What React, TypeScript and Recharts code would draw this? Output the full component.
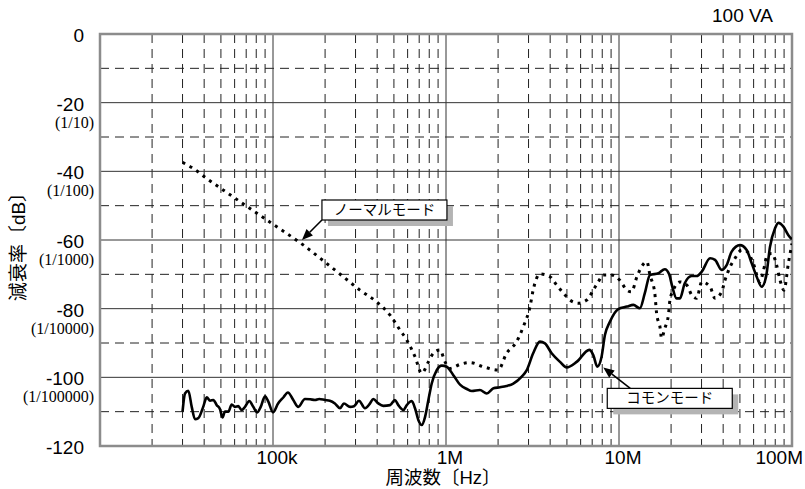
import { LineChart, Line, XAxis, YAxis, CartesianGrid, ReferenceArea, ReferenceDot } from 'recharts';

// common mode (solid)
const cmFreq = [
  30e3, 31e3, 32.4e3, 33.9e3, 35.4e3, 37e3, 39.5e3, 41.4e3, 43.3e3, 45.2e3, 47.3e3, 49.4e3, 51e3, 52.8e3, 55.2e3,
  57.7e3, 60.3e3, 63e3, 65.9e3, 68.9e3, 72.9e3, 76.9e3, 81.1e3, 84.9e3, 89.9e3, 94e3, 100e3, 107e3, 115e3, 122e3,
  131e3, 140e3, 153e3, 164e3, 175e3, 185e3, 200e3, 213e3, 228e3, 244e3, 257e3, 279e3, 294e3, 314e3, 340e3,
  364e3, 380e3, 406e3, 434e3, 475e3, 507e3, 530e3, 567e3, 593e3, 634e3, 662e3, 692e3, 724e3, 757e3, 791e3,
  827e3, 884e3, 945e3, 1.01e6, 1.1e6, 1.21e6, 1.32e6, 1.41e6, 1.57e6, 1.72e6, 1.88e6, 2.05e6, 2.24e6, 2.45e6,
  2.74e6, 2.93e6, 3.19e6, 3.49e6, 3.73e6, 4.08e6, 4.56e6, 4.98e6, 5.69e6, 6.73e6, 7.1e6, 7.49e6, 7.93e6, 8.29e6,
  8.86e6, 9.9e6, 11.1e6, 12.1e6, 13.2e6, 14.1e6, 15.1e6, 16.9e6, 18.4e6, 19.5e6, 20.3e6, 21.5e6, 22.5e6, 24e6,
  26.3e6, 28.1e6, 30.1e6, 33.6e6, 35.9e6, 39.2e6, 41.9e6, 44.8e6, 50e6, 54.7e6, 58.5e6, 62.5e6, 66.8e6, 70.8e6,
  74.6e6, 79.8e6, 83.4e6, 89.2e6, 95.3e6, 100e6,
];
const cmDb = [
  -110.0, -104.7, -103.9, -108.6, -112.2, -111.9, -108.6, -105.8, -106.8, -106.6, -108.1, -109.3, -111.7, -110.0, -110.0,
  -107.9, -108.6, -108.4, -109.5, -108.6, -106.9, -108.6, -110.2, -108.6, -105.5, -107.1, -110.2, -107.6, -105.8, -104.4,
  -106.6, -108.6, -106.3, -106.4, -106.6, -106.3, -106.6, -106.8, -107.6, -109.0, -107.6, -108.6, -108.4, -106.8, -109.0,
  -107.6, -106.3, -107.6, -108.3, -108.1, -106.6, -108.1, -109.5, -108.1, -106.9, -109.0, -112.4, -113.9, -111.5, -106.6,
  -101.8, -97.9, -96.6, -96.9, -99.3, -102.2, -103.4, -104.0, -103.7, -104.7, -103.2, -102.9, -102.5, -101.8,
  -99.8, -97.9, -93.0, -89.6, -90.1, -93.0, -95.5, -97.1, -95.5, -92.0, -93.5, -96.9, -94.0, -87.7,
  -83.8, -80.1, -79.4, -78.9, -79.9, -75.5, -70.2, -69.7, -68.5, -70.0, -73.5, -77.0, -77.0, -72.6,
  -70.5, -70.5, -69.2, -65.3, -65.8, -68.7, -67.3, -63.4, -61.5, -62.9, -66.8, -70.7, -73.6, -70.7,
  -62.0, -56.6, -55.0, -56.1, -58.6, -59.8,
];

// normal mode (dotted)
const nmFreq = [
  30e3, 33.9e3, 41.7e3, 64.4e3, 98e3, 150e3, 204e3, 255e3, 318e3, 397e3, 475e3, 542e3, 593e3, 662e3, 724e3,
  791e3, 845e3, 923e3, 987e3, 1.05e6, 1.21e6, 1.38e6, 1.64e6, 2.0e6, 2.24e6, 2.56e6, 2.8e6, 3.06e6, 3.19e6,
  3.49e6, 3.99e6, 4.36e6, 4.77e6, 5.21e6, 5.82e6, 6.51e6, 7.1e6, 7.59e6, 8.11e6, 9.06e6, 10.1e6, 11.1e6, 11.8e6,
  12.7e6, 13.5e6, 14.5e6, 15.1e6, 16.1e6, 16.5e6, 17.3e6, 17.6e6, 18.4e6, 19.3e6, 19.7e6, 20.6e6, 22.5e6, 24.6e6,
  26.3e6, 28.1e6, 30.1e6, 33.6e6, 35.9e6, 39.2e6, 41e6, 43.9e6, 46.9e6, 51.2e6, 55.1e6, 59.7e6, 65.3e6, 68.2e6,
  72e6, 76.3e6, 81.5e6, 85.3e6, 89.9e6, 95.3e6, 100e6,
];
const nmDb = [
  -37.4, -38.9, -42.2, -48.8, -55.1, -61.5, -66.8, -70.7, -74.6, -78.0, -81.9, -86.2, -89.1, -94.0, -98.8,
  -95.5, -93.0, -92.0, -95.5, -97.4, -96.2, -95.7, -96.9, -97.9, -93.0, -89.6, -85.2, -79.4, -74.6,
  -69.9, -70.7, -73.1, -75.5, -77.5, -78.4, -77.5, -74.6, -72.2, -70.2, -70.2, -71.7, -74.6, -75.1,
  -70.7, -67.8, -66.3, -70.2, -75.5, -81.4, -85.7, -88.6, -85.7, -81.9, -77.5, -74.6, -72.2, -73.1,
  -76.0, -77.0, -72.2, -73.6, -77.0, -75.1, -71.7, -67.8, -65.3, -62.9, -63.4, -66.8, -72.2, -69.2,
  -64.4, -63.9, -67.3, -71.7, -74.6, -66.8, -61.0,
];

const xTicks = [1e5, 1e6, 1e7, 1e8];
const xTickLabels = ['100k', '1M', '10M', '100M'];
const yTicks = [0, -20, -40, -60, -80, -100, -120];
const yTickLabels = ['0', '-20', '-40', '-60', '-80', '-100', '-120'];
const yRatioLabels = ['', '(1/10)', '(1/100)', '(1/1000)', '(1/10000)', '(1/100000)', ''];

const decades = [1e4, 1e5, 1e6, 1e7];
const minorX = decades.flatMap((d) => [2, 3, 4, 5, 6, 7, 8, 9].map((m) => m * d));
const majorX = [1e5, 1e6, 1e7];
const minorY = [-10, -30, -50, -70, -90, -110];
const majorY = [-20, -40, -60, -80, -100];

const cmData = cmFreq.map((f, i) => ({ f, db: cmDb[i] }));
const nmData = nmFreq.map((f, i) => ({ f, db: nmDb[i] }));

const SANS = '"Liberation Sans", Arial, sans-serif';
const JP = '"Liberation Sans", "Noto Sans CJK JP", sans-serif';

const YTick = ({ y, payload }: any) => {
  const i = yTicks.indexOf(payload.value);
  return (
    <g>
      <text x={84} y={y + 8} textAnchor="end" fontFamily={SANS} fontSize={19} fill="#000">
        {yTickLabels[i]}
      </text>
      {yRatioLabels[i] && (
        <text x={94} y={y + 25} textAnchor="end" fontFamily='"Liberation Serif", serif' fontSize={16} fill="#000">
          {yRatioLabels[i]}
        </text>
      )}
    </g>
  );
};

const XTick = ({ x, payload }: any) => {
  const i = xTicks.indexOf(payload.value);
  const last = i === xTicks.length - 1;
  return (
    <text
      x={last ? 803 : x + 4}
      y={464}
      textAnchor={last ? 'end' : 'middle'}
      fontFamily={SANS}
      fontSize={19}
      fill="#000"
    >
      {xTickLabels[i]}
    </text>
  );
};

// callout box with arrow, anchored at the arrow tip
const Callout = ({ cx, cy, text, bx, by, w, h, ax, ay }: any) => {
  const left = cx + bx;
  const top = cy + by;
  const sx = cx + ax;
  const sy = cy + ay;
  const ang = Math.atan2(cy - sy, cx - sx);
  const len = 11;
  const half = 4.5;
  const baseX = cx - len * Math.cos(ang);
  const baseY = cy - len * Math.sin(ang);
  const px = -Math.sin(ang) * half;
  const py = Math.cos(ang) * half;
  return (
    <g>
      <line x1={sx} y1={sy} x2={baseX} y2={baseY} stroke="#000" strokeWidth={1.6} />
      <polygon points={`${cx},${cy} ${baseX + px},${baseY + py} ${baseX - px},${baseY - py}`} fill="#000" />
      <rect x={left + 6} y={top + 6} width={w} height={h} fill="#b4b4b4" />
      <rect x={left} y={top} width={w} height={h} fill="#fff" stroke="#000" strokeWidth={1.2} />
      <text
        x={left + w / 2}
        y={top + h / 2 + 5}
        textAnchor="middle"
        fontFamily='"Noto Sans CJK JP", sans-serif'
        fontSize={14.5}
        fill="#000"
      >
        {text}
      </text>
    </g>
  );
};

const App = () => {
  return (
    <div style={{ position: 'absolute', left: 0, top: 0, width: 805, height: 489, background: '#fff' }}>
      <LineChart width={805} height={489} margin={{ top: 34, right: 13, left: 0, bottom: 0 }}>
        <CartesianGrid
          horizontalValues={minorY}
          verticalValues={minorX}
          stroke="#222"
          strokeWidth={1}
          strokeDasharray="9 6"
        />
        <CartesianGrid horizontalValues={majorY} verticalValues={majorX} stroke="#333" strokeWidth={1} />
        <XAxis
          dataKey="f"
          type="number"
          scale="log"
          domain={[1e4, 1e8]}
          allowDataOverflow
          ticks={xTicks}
          interval={0}
          height={43}
          axisLine={false}
          tickLine={false}
          tick={XTick}
        />
        <YAxis
          type="number"
          domain={[-120, 0]}
          ticks={yTicks}
          interval={0}
          width={100}
          axisLine={false}
          tickLine={false}
          tick={YTick}
          label={{
            content: () => (
              <text
                transform="translate(25,242) rotate(-90)"
                textAnchor="middle"
                fontFamily={JP}
                fontSize={19}
                fill="#000"
              >
                減衰率〔dB〕
              </text>
            ),
          }}
        />
        <Line
          data={nmData}
          dataKey="db"
          type="monotone"
          stroke="#000"
          strokeWidth={3}
          strokeDasharray="3 5"
          dot={false}
          isAnimationActive={false}
        />
        <Line
          data={cmData}
          dataKey="db"
          type="monotone"
          stroke="#000"
          strokeWidth={2.6}
          dot={false}
          isAnimationActive={false}
        />
        <ReferenceArea x1={1e4} x2={1e8} y1={-120} y2={0} fill="none" stroke="#8c8c8c" strokeWidth={2.5} />
        <ReferenceDot
          x={147e3}
          y={-60}
          r={0}
          shape={(p: any) => (
            <Callout cx={p.cx} cy={p.cy} text="ノーマルモード" bx={20} by={-40} w={125} h={20} ax={20} ay={-20} />
          )}
        />
        <ReferenceDot
          x={8.11e6}
          y={-97.1}
          r={0}
          shape={(p: any) => (
            <Callout cx={p.cx} cy={p.cy} text="コモンモード" bx={4} by={21} w={125} h={20} ax={27} ay={21} />
          )}
        />
      </LineChart>
      <div
        style={{
          position: 'absolute',
          left: 712,
          top: 6,
          fontFamily: SANS,
          fontSize: 19,
          lineHeight: '20px',
          color: '#000',
        }}
      >
        100 VA
      </div>
      <div
        style={{
          position: 'absolute',
          left: 343,
          width: 200,
          textAlign: 'center',
          top: 468,
          fontFamily: JP,
          fontSize: 18.5,
          lineHeight: '20px',
          color: '#000',
        }}
      >
        周波数〔Hz〕
      </div>
    </div>
  );
};

export default App;
